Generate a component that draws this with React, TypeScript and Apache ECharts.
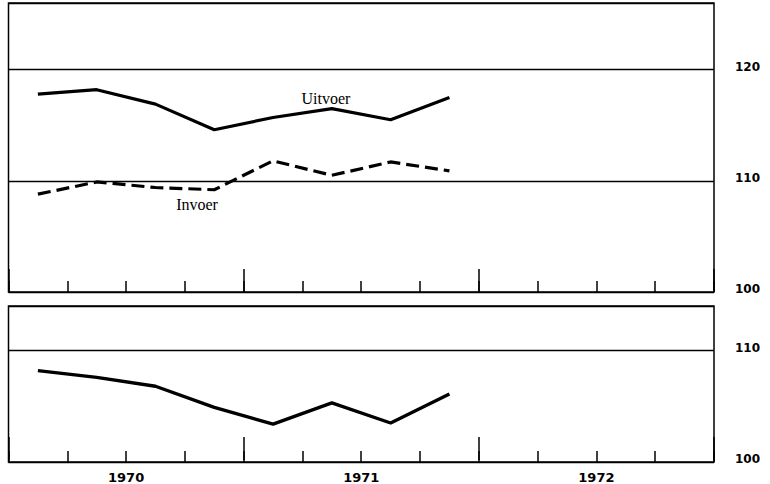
import React, { useEffect, useRef } from 'react';
import * as echarts from 'echarts';

const quarters = [
  '1970 I', '1970 II', '1970 III', '1970 IV',
  '1971 I', '1971 II', '1971 III', '1971 IV',
  '1972 I', '1972 II', '1972 III', '1972 IV',
];
const years = ['1970', '1971', '1972'];

const uitvoer = [117.8, 118.2, 116.9, 114.6, 115.7, 116.5, 115.5, 117.5];
const invoer = [108.8, 109.9, 109.4, 109.2, 111.8, 110.5, 111.7, 110.9];
const ruilvoet = [108.2, 107.6, 106.8, 104.9, 103.4, 105.3, 103.5, 106.1];

const topTickLabels = [100, 110, 120];
const bottomTickLabels = [100, 110];

const GL = 8.5;
const GW = 705.5;
const T1 = 3;
const H1 = 289;
const T2 = 306;
const H2 = 156;

export default function App() {
  const ref = useRef<HTMLDivElement>(null);

  useEffect(() => {
    if (!ref.current) return;
    const chart = echarts.init(ref.current, undefined, { renderer: 'svg' });

    const numLabel = {
      margin: 21,
      color: '#000',
      fontFamily: 'DejaVu Sans',
      fontWeight: 'bold' as const,
      fontSize: 12,
      verticalAlign: 'bottom' as const,
      lineHeight: 12,
      padding: [0, 0, -3, 0],
    };
    const split = { show: true, lineStyle: { color: '#000', width: 1.3, type: 'solid' as const } };
    const quarterAxis = (gridIndex: number) => ({
      type: 'category' as const,
      gridIndex,
      data: quarters,
      boundaryGap: true,
      axisLine: { show: false },
      axisTick: { show: true, inside: true, length: 11, lineStyle: { color: '#000', width: 1.5 } },
      axisLabel: { show: false },
      splitLine: { show: false },
    });
    const yearAxis = (gridIndex: number, showLabel: boolean) => ({
      type: 'category' as const,
      gridIndex,
      data: years,
      boundaryGap: true,
      axisLine: { show: false },
      axisTick: { show: true, inside: true, length: 23, lineStyle: { color: '#000', width: 1.5 } },
      axisLabel: {
        show: showLabel,
        margin: 11,
        color: '#000',
        fontFamily: 'DejaVu Sans',
        fontWeight: 'bold' as const,
        fontSize: 13,
      },
      splitLine: { show: false },
    });

    chart.setOption({
      animation: false,
      backgroundColor: '#fff',
      grid: [
        { left: GL, width: GW, top: T1, height: H1, show: true, borderColor: '#000', borderWidth: 1.5, backgroundColor: 'transparent' },
        { left: GL, width: GW, top: T1, height: H1, show: false },
        { left: GL, width: GW, top: T2, height: H2, show: true, borderColor: '#000', borderWidth: 1.5, backgroundColor: 'transparent' },
        { left: GL, width: GW, top: T2, height: H2, show: false },
      ],
      xAxis: [quarterAxis(0), yearAxis(1, false), quarterAxis(2), yearAxis(3, true)],
      yAxis: [
        {
          type: 'value', gridIndex: 0, position: 'right', min: 100, max: 126, interval: 10,
          axisLine: { show: false }, axisTick: { show: false }, splitLine: split,
          axisLabel: { ...numLabel, formatter: (v: number) => (topTickLabels.includes(v) ? String(v) : '') },
        },
        { type: 'value', gridIndex: 1, show: false, min: 0, max: 1 },
        {
          type: 'value', gridIndex: 2, position: 'right', min: 100, max: 114, interval: 10,
          axisLine: { show: false }, axisTick: { show: false }, splitLine: split,
          axisLabel: { ...numLabel, formatter: (v: number) => (bottomTickLabels.includes(v) ? String(v) : '') },
        },
        { type: 'value', gridIndex: 3, show: false, min: 0, max: 1 },
      ],
      graphic: [
        {
          type: 'text', x: 326, y: 98,
          style: { text: 'Uitvoer', fill: '#000', font: '16px "Liberation Serif"', textAlign: 'center', textVerticalAlign: 'middle' },
        },
        {
          type: 'text', x: 197, y: 204,
          style: { text: 'Invoer', fill: '#000', font: '16px "Liberation Serif"', textAlign: 'center', textVerticalAlign: 'middle' },
        },
      ],
      series: [
        {
          name: 'Uitvoer', type: 'line', xAxisIndex: 0, yAxisIndex: 0, data: uitvoer,
          symbol: 'none', showSymbol: false,
          lineStyle: { color: '#000', width: 3.2, type: 'solid' },
        },
        {
          name: 'Invoer', type: 'line', xAxisIndex: 0, yAxisIndex: 0, data: invoer,
          symbol: 'none', showSymbol: false,
          lineStyle: { color: '#000', width: 3.2, type: [13, 6] },
        },
        {
          name: 'Ruilvoet', type: 'line', xAxisIndex: 2, yAxisIndex: 2, data: ruilvoet,
          symbol: 'none', showSymbol: false,
          lineStyle: { color: '#000', width: 3.4, type: 'solid' },
        },
      ],
    });

    return () => chart.dispose();
  }, []);

  return (
    <div
      ref={ref}
      style={{ position: 'fixed', left: 0, top: 0, width: 770, height: 484, background: '#fff' }}
    />
  );
}
